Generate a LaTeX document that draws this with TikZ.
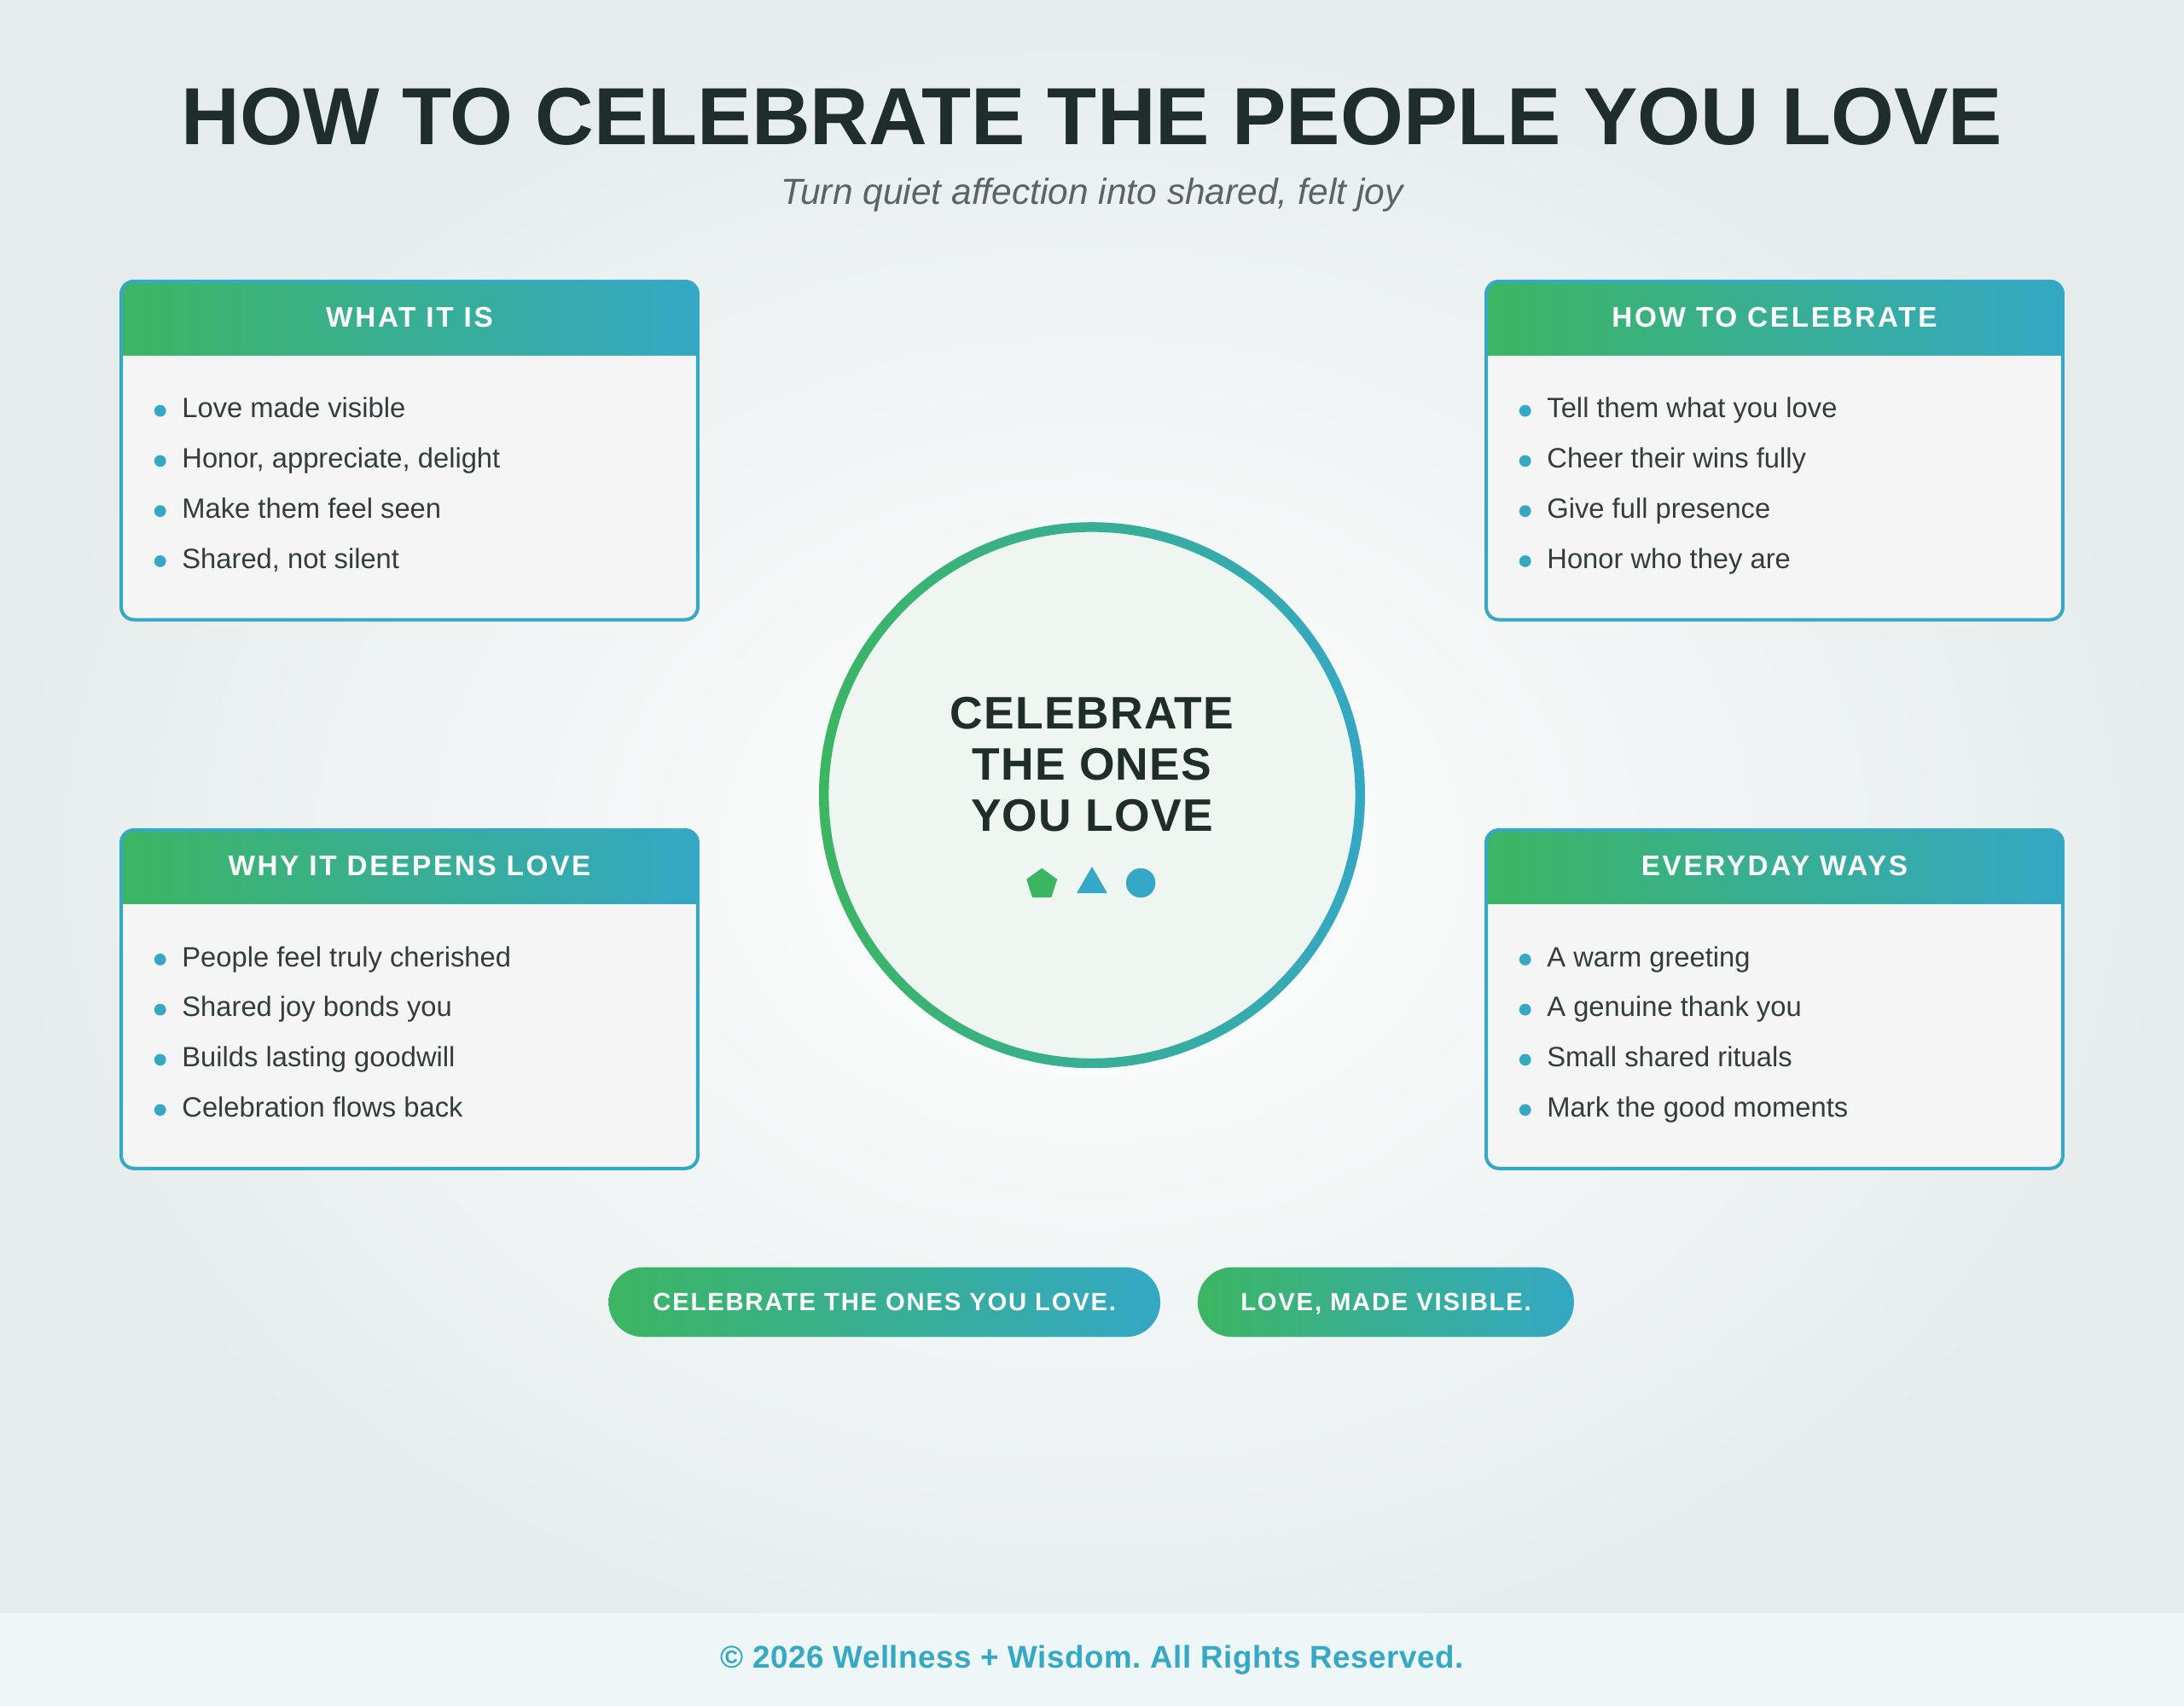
\documentclass[tikz,border=0pt]{standalone}
\usepackage{fontspec}
\setmainfont{Liberation Sans}
\usetikzlibrary{shapes.geometric,calc}
\frenchspacing
\definecolor{gr}{HTML}{3CB563}
\definecolor{tl}{HTML}{34A8C4}
\definecolor{dark}{HTML}{1F2D2B}
\definecolor{body}{HTML}{333D3B}
\definecolor{sub}{HTML}{5A6462}
\definecolor{edge}{HTML}{E6ECEC}
\definecolor{boxfill}{HTML}{F5F5F5}
\definecolor{foot}{HTML}{EEF6F7}
\definecolor{cfill}{HTML}{EFF6F1}
\tikzset{
  hdr/.style={font=\bfseries\fontsize{5.8}{7}\selectfont\addfontfeature{LetterSpace=8}, text=white, anchor=base},
  item/.style={font=\fontsize{5.7}{7}\selectfont, text=body, anchor=base west, inner sep=0pt},
  dot/.style={circle, fill=tl, inner sep=0pt, minimum size=2.4pt},
  pill/.style={font=\bfseries\fontsize{5.1}{6}\selectfont\addfontfeature{LetterSpace=6}, text=white, anchor=base}
}
\newcommand\drawbox[8]{%
  \begin{scope}
    \clip[rounded corners=2.6pt] (#1,#2) rectangle ++(414,243);
    \fill[boxfill] (#1,#2) rectangle ++(414,243);
    \shade[left color=gr, right color=tl] (#1,#2) rectangle ++(414,53);
  \end{scope}
  \draw[tl, line width=0.7pt, rounded corners=2.6pt] (#1,#2) rectangle ++(414,243);
  \node[hdr] (#3h) at ($(#1,#2)+(207,33)$) {#4};
  \foreach \t [count=\i] in {{#5},{#6},{#7},{#8}}{
    \node[dot] (#3d\i) at ($(#1,#2)+(28,{93+(\i-1)*36})$) {};
    \node[item] (#3t\i) at ($(#1,#2)+(43,{98+(\i-1)*36})$) {\t};
  }
}
\begin{document}
\begin{tikzpicture}[x=0.01cm,y=-0.01cm]
\useasboundingbox (0,0) rectangle (1568,1225);
\shade[inner color=white, outer color=edge] (0,0) rectangle (1568,1225);
\fill[foot] (0,1158) rectangle (1568,1225);
\node[font=\bfseries\fontsize{16.55}{20}\selectfont, text=dark] (title) at (784,84) {HOW TO CELEBRATE THE PEOPLE YOU LOVE};
\node[font=\itshape\fontsize{7.4}{9}\selectfont, text=sub] (subt) at (784,140) {Turn quiet affection into shared, felt joy};
\drawbox{87}{202}{a}{WHAT IT IS}{Love made visible}{Honor, appreciate, delight}{Make them feel seen}{Shared, not silent}
\drawbox{1067}{202}{b}{HOW TO CELEBRATE}{Tell them what you love}{Cheer their wins fully}{Give full presence}{Honor who they are}
\drawbox{87}{596}{c}{WHY IT DEEPENS LOVE}{People feel truly cherished}{Shared joy bonds you}{Builds lasting goodwill}{Celebration flows back}
\drawbox{1067}{596}{d}{EVERYDAY WAYS}{A warm greeting}{A genuine thank you}{Small shared rituals}{Mark the good moments}
% center circle
\fill[cfill] (784,571) circle (190);
\shade[even odd rule, shading angle=45, left color=gr, right color=tl] (784,571) circle (196) (784,571) circle (189);
\node[align=center, font=\bfseries\fontsize{9.3}{10.5}\selectfont\addfontfeature{LetterSpace=2.5}, text=dark] (ctext) at (784,549) {CELEBRATE\\THE ONES\\YOU LOVE};
\node[regular polygon, regular polygon sides=5, fill=gr, inner sep=0pt, minimum size=6.6pt] (pent) at (748,635) {};
\node[isosceles triangle, isosceles triangle apex angle=60, shape border rotate=90, fill=tl, inner sep=0pt, minimum height=5.4pt] (tri) at (784,635) {};
\node[circle, fill=tl, inner sep=0pt, minimum size=6pt] (circ) at (819,634) {};
% pills
\shade[left color=gr, right color=tl, rounded corners=7pt] (437,910) rectangle (833,960);
\node[pill] (p1) at (635,941) {CELEBRATE THE ONES YOU LOVE.};
\shade[left color=gr, right color=tl, rounded corners=7pt] (860,910) rectangle (1130,960);
\node[pill] (p2) at (995,941) {LOVE, MADE VISIBLE.};
\node[font=\bfseries\fontsize{6.4}{8}\selectfont\addfontfeature{LetterSpace=1.5}, text=tl] (foot) at (784,1192) {© 2026 Wellness + Wisdom. All Rights Reserved.};
\end{tikzpicture}
\end{document}
